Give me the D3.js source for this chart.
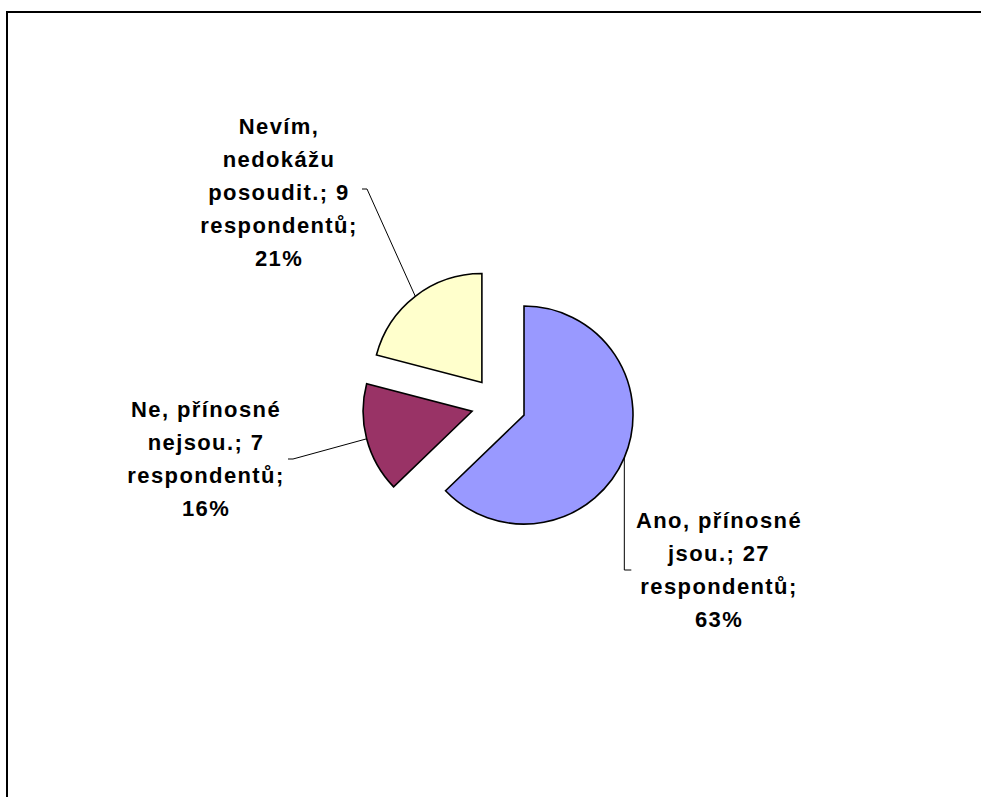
<!DOCTYPE html>
<html>
<head>
<meta charset="utf-8">
<script src="https://cdn.jsdelivr.net/npm/d3@7/dist/d3.min.js"></script>
<style>
  html, body { margin: 0; padding: 0; background: #fff; }
  svg { display: block; }
  .lbl { font-family: "Liberation Sans", Arial, sans-serif; font-weight: bold; font-size: 22px; letter-spacing: 1.4px; fill: #000; }
</style>
</head>
<body>
<svg id="chart" width="981" height="797"></svg>
<script>
// Survey answers and respondent counts
const categories = ["Ano, přínosné jsou.", "Ne, přínosné nejsou.", "Nevím, nedokážu posoudit."];
const respondents = [27, 7, 9];
const unitLabel = "respondentů";
const colors = ["#9999FF", "#993366", "#FFFFCC"];

const W = 981, H = 797;
const svg = d3.select("#chart");

// chart frame (right and bottom edges run past the canvas)
svg.append("rect")
  .attr("x", 7).attr("y", 12)
  .attr("width", 1200).attr("height", 1200)
  .attr("fill", "none").attr("stroke", "#000").attr("stroke-width", 2);

const cx = 498.7, cy = 404.3, R = 109, explode = 27.5;
const total = d3.sum(respondents);

const pie = d3.pie().sort(null).value(d => d.value).startAngle(0).endAngle(2 * Math.PI);
const data = pie(categories.map((c, i) => ({ cat: c, value: respondents[i], color: colors[i], i })));
const arc = d3.arc().innerRadius(0).outerRadius(R);

const dir = a => [Math.sin(a), -Math.cos(a)];

const g = svg.append("g").attr("transform", `translate(${cx},${cy})`);

data.forEach(d => {
  const mid = (d.startAngle + d.endAngle) / 2;
  const [ux, uy] = dir(mid);
  d.ox = ux * explode; d.oy = uy * explode;
  d.mid = mid;
});

g.selectAll("path.slice").data(data).enter().append("path")
  .attr("class", "slice")
  .attr("transform", d => `translate(${d.ox},${d.oy})`)
  .attr("d", arc)
  .attr("fill", d => d.data.color)
  .attr("stroke", "#000").attr("stroke-width", 1.6)
  .attr("stroke-linejoin", "miter");

// label anchors (centre x, first baseline) and leader bends
const labelPos = [
  { x: 719, y: 528, leader: (p) => [p, [p[0], 570], [p[0] + 7, 570]] },
  { x: 206, y: 417, leader: (p) => [p, [293, 459], [288, 459]] },
  { x: 279, y: 134, leader: (p) => [p, [367, 189], [362, 189]] }
];
const lineH = 33;

// word wrapping within a fixed label width
function wrap(text, maxW) {
  const probe = svg.append("text").attr("class", "lbl");
  const words = text.split(" ");
  const lines = [];
  let cur = "";
  words.forEach(w => {
    const test = cur ? cur + " " + w : w;
    probe.text(test);
    if (cur && probe.node().getComputedTextLength() > maxW) {
      lines.push(cur); cur = w;
    } else cur = test;
  });
  if (cur) lines.push(cur);
  probe.remove();
  return lines;
}

const lineGen = d3.line();
data.forEach((d, k) => {
  const pos = labelPos[k];
  const [ux, uy] = dir(d.mid);
  const p = [cx + d.ox + ux * R, cy + d.oy + uy * R];
  svg.append("path")
    .attr("d", lineGen(pos.leader(p)))
    .attr("fill", "none").attr("stroke", "#000").attr("stroke-width", 1);

  const pct = Math.round(d.data.value / total * 100);
  const txt = `${d.data.cat}; ${d.data.value} ${unitLabel}; ${pct}%`;
  const lines = wrap(txt, 178);
  const t = svg.append("text").attr("class", "lbl").attr("text-anchor", "middle");
  lines.forEach((ln, j) => {
    t.append("tspan").attr("x", pos.x).attr("y", pos.y + j * lineH).text(ln);
  });
});
</script>
</body>
</html>
